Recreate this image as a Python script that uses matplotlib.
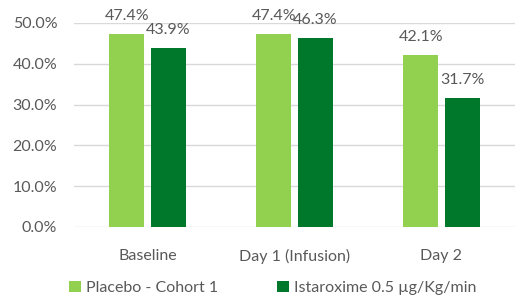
import matplotlib.pyplot as plt
import numpy as np

categories = ["Baseline", "Day 1 (Infusion)", "Day 2"]
placebo = [47.4, 47.4, 42.1]
istaroxime = [43.9, 46.3, 31.7]
series_names = ["Placebo - Cohort 1", "Istaroxime 0.5 \u00b5g/Kg/min"]

light = "#92d050"
dark = "#00782b"
grey = "#595959"

plt.rcParams['font.family'] = ['Lato', 'DejaVu Sans']

fig = plt.figure(figsize=(5.15, 2.96), dpi=100)
ax = fig.add_axes([74 / 515, 1 - 227 / 296, 1 - 74 / 515, 204 / 296])

x = np.arange(len(categories))
w = 0.237
gap = 0.022
b1 = ax.bar(x - w / 2 - gap, placebo, width=w, color=light, label=series_names[0], zorder=3)
b2 = ax.bar(x + w / 2 + gap, istaroxime, width=w, color=dark, label=series_names[1], zorder=3)

for bars, vals in [(b1, placebo), (b2, istaroxime)]:
    for r, v in zip(bars, vals):
        ax.annotate("%.1f%%" % v, (r.get_x() + r.get_width() / 2, v),
                    xytext=(0, 13), textcoords="offset points",
                    ha="center", va="center", fontsize=11.5, color=grey)

ax.set_xlim(-0.5, 2.5)
ax.set_ylim(0, 50)
ax.set_yticks(range(0, 51, 10))
ax.set_yticklabels(["%.1f%%" % t for t in range(0, 51, 10)])
ax.set_xticks(x)
ax.set_xticklabels(categories)
ax.tick_params(length=0, labelsize=11.5, labelcolor=grey)
ax.tick_params(axis="x", pad=16)
ax.tick_params(axis="y", pad=12)
ax.grid(axis="y", color="#d9d9d9", linewidth=1, zorder=0)
for s in ax.spines.values():
    s.set_visible(False)

fig.legend(loc="lower left", bbox_to_anchor=(55 / 515, -0.045), ncol=2, frameon=False,
           fontsize=11.5, handlelength=0.75, handleheight=0.75, handletextpad=0.3,
           columnspacing=3.7, labelcolor=grey)

fig.savefig("out.png", dpi=100)
